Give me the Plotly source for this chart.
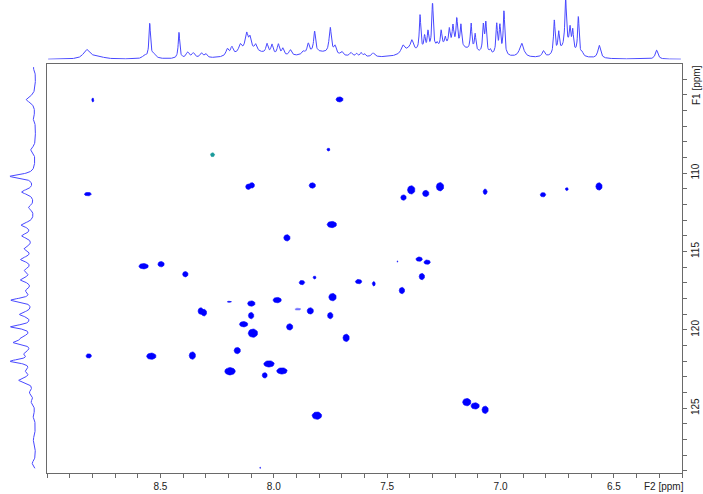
import numpy as np
import plotly.graph_objects as go

# ---------------- data ----------------
# 2D cross peaks: F2 (1H, ppm), F1 (15N, ppm), linewidths F2 / F1 (ppm)
peak_f2 = [8.798, 7.710, 7.759, 8.820, 8.112, 8.097, 7.830, 7.744, 7.942, 8.574,
           8.497, 8.390, 7.820, 7.626, 7.428, 7.394, 7.330, 7.267, 7.068, 6.813,
           6.708, 6.566, 7.455, 7.359, 7.324, 7.347, 7.876, 7.559, 7.741, 8.196,
           8.099, 7.985, 7.839, 7.751, 8.322, 8.308, 8.100, 8.133, 8.092, 7.930,
           7.681, 8.816, 8.540, 8.359, 8.161, 8.193, 8.021, 7.964, 8.040, 7.810,
           7.435, 7.149, 7.112, 7.068, 8.060]
peak_f1 = [105.34, 105.30, 108.50, 111.34, 110.87, 110.78, 110.79, 113.28, 114.13, 115.94,
           115.81, 116.45, 116.66, 116.92, 111.56, 111.07, 111.30, 110.87, 111.19, 111.38,
           111.02, 110.85, 115.64, 115.49, 115.68, 116.60, 116.98, 117.06, 117.91, 118.21,
           118.32, 118.10, 118.79, 119.09, 118.80, 118.90, 119.09, 119.64, 120.21, 119.81,
           120.51, 121.66, 121.68, 121.64, 121.32, 122.64, 122.17, 122.62, 122.90, 125.47,
           117.49, 124.61, 124.85, 125.10, 128.80]
lw_f2 = [0.009, 0.031, 0.013, 0.031, 0.024, 0.024, 0.028, 0.042, 0.028, 0.042,
         0.028, 0.024, 0.013, 0.028, 0.024, 0.033, 0.028, 0.033, 0.018, 0.024,
         0.013, 0.028, 0.005, 0.028, 0.028, 0.024, 0.024, 0.013, 0.033, 0.018,
         0.033, 0.037, 0.028, 0.024, 0.024, 0.024, 0.024, 0.037, 0.042, 0.028,
         0.028, 0.024, 0.042, 0.028, 0.028, 0.046, 0.046, 0.046, 0.022, 0.042,
         0.024, 0.037, 0.037, 0.028, 0.005]
lw_f1 = [0.26, 0.32, 0.19, 0.22, 0.34, 0.34, 0.34, 0.40, 0.40, 0.34,
         0.34, 0.34, 0.19, 0.28, 0.34, 0.53, 0.40, 0.53, 0.34, 0.28,
         0.19, 0.47, 0.07, 0.28, 0.28, 0.40, 0.28, 0.28, 0.47, 0.07,
         0.34, 0.34, 0.40, 0.40, 0.42, 0.42, 0.40, 0.34, 0.53, 0.40,
         0.47, 0.28, 0.40, 0.47, 0.40, 0.47, 0.40, 0.40, 0.34, 0.47,
         0.40, 0.47, 0.40, 0.47, 0.07]

# weak / negative peaks
weak_f2, weak_f1, weak_lw2, weak_lw1 = [7.894], [118.68], [0.026], [0.13]
neg_f2, neg_f1, neg_lw2, neg_lw1 = [8.270], [108.83], [0.018], [0.26]

# 1H projection (top): position ppm, height, half width ppm
h_pos = [8.826, 8.780, 8.570, 8.547, 8.530, 8.418, 8.380, 8.355, 8.320, 8.300,
         8.205, 8.185, 8.148, 8.120, 8.105, 8.080, 8.030, 8.008, 7.980, 7.960,
         7.927, 7.870, 7.848, 7.820, 7.751, 7.730, 7.700, 7.660, 7.635, 7.615,
         7.600, 7.562, 7.431, 7.391, 7.355, 7.335, 7.320, 7.300, 7.280, 7.262,
         7.244, 7.226, 7.210, 7.193, 7.175, 7.130, 7.112, 7.076, 7.065, 7.045,
         7.017, 7.003, 6.985, 6.907, 6.811, 6.763, 6.744, 6.713, 6.694, 6.682,
         6.657, 6.640, 6.565, 6.312,
         8.100, 7.800, 7.220, 7.400, 6.710]
h_int = [9, 3, 3, 34, 4, 26, 6, 5, 5, 4,
         7, 8, 8, 17, 11, 6, 10, 10, 11, 7,
         6, 3, 10, 21, 26, 8, 4, 4, 3, 4,
         3, 4, 8, 9, 36, 14, 18, 46, 4, 16,
         8, 16, 19, 27, 22, 27, 17, 27, 30, 4,
         30, 28, 44, 14, 6, 34, 20, 48, 20, 20,
         38, 3, 13, 9,
         8, 6, 13, 6, 11]
h_wid = [0.016, 0.030, 0.010, 0.004, 0.012, 0.004, 0.008, 0.008, 0.007, 0.007,
         0.007, 0.007, 0.008, 0.008, 0.006, 0.006, 0.006, 0.006, 0.006, 0.006,
         0.007, 0.007, 0.006, 0.005, 0.006, 0.006, 0.007, 0.007, 0.006, 0.005,
         0.005, 0.009, 0.009, 0.007, 0.004, 0.004, 0.004, 0.004, 0.004, 0.004,
         0.004, 0.004, 0.004, 0.004, 0.004, 0.004, 0.004, 0.004, 0.004, 0.004,
         0.004, 0.004, 0.004, 0.011, 0.007, 0.004, 0.004, 0.004, 0.004, 0.004,
         0.004, 0.004, 0.007, 0.007,
         0.070, 0.080, 0.110, 0.030, 0.035]

# 15N projection (left): position ppm, height, half width ppm
n_pos = [103.3, 105.3, 106.5, 108.5, 110.2, 111.2, 112.2, 113.3, 114.0, 114.8,
         115.5, 116.2, 116.8, 117.5, 118.1, 119.0, 119.8, 120.5, 120.8, 121.5,
         122.0, 122.6, 123.2, 124.0, 124.6, 125.5, 127.0, 128.5]
n_int = [2, 8, 2, 4, 21, 11, 5, 11, 10, 8,
         11, 7, 11, 6, 19, 12, 19, 8, 15, 7,
         19, 6, 13, 4, 3, 2, 2, 3]
n_wid = [0.20, 0.25, 0.20, 0.20, 0.15, 0.20, 0.20, 0.20, 0.20, 0.20,
         0.20, 0.20, 0.20, 0.20, 0.15, 0.20, 0.15, 0.20, 0.15, 0.20,
         0.15, 0.20, 0.20, 0.20, 0.20, 0.20, 0.30, 0.20]

x_ticks = [8.5, 8.0, 7.5, 7.0, 6.5]
y_ticks = [110, 115, 120, 125]
F2_RANGE = [9.0, 6.2]
F1_RANGE = [129.13, 103.04]

# ---------------- helpers ----------------
def ellipses(xc, yc, w2, w1, n=28):
    t = np.linspace(0, 2 * np.pi, n)
    xs, ys = [], []
    for a, b, rw, rh in zip(xc, yc, w2, w1):
        xs += list(a + rw / 2 * np.cos(t)) + [None]
        ys += list(b + rh / 2 * np.sin(t)) + [None]
    return xs, ys

def lorentz_sum(axis, pos, amp, wid):
    s = np.zeros_like(axis)
    for p, a, w in zip(pos, amp, wid):
        s += a * w * w / ((axis - p) ** 2 + w * w)
    return s

W, H = 703, 494
fig = go.Figure()

ex, ey = ellipses(peak_f2, peak_f1, lw_f2, lw_f1)
fig.add_trace(go.Scatter(x=ex, y=ey, mode="lines", fill="toself",
                         fillcolor="#0000ff", line=dict(color="#0000ff", width=0.6),
                         hoverinfo="skip", showlegend=False, xaxis="x", yaxis="y"))
ex, ey = ellipses(weak_f2, weak_f1, weak_lw2, weak_lw1)
fig.add_trace(go.Scatter(x=ex, y=ey, mode="lines", fill="toself",
                         fillcolor="#7070ff", line=dict(color="#7070ff", width=0.5),
                         hoverinfo="skip", showlegend=False, xaxis="x", yaxis="y"))
ex, ey = ellipses(neg_f2, neg_f1, neg_lw2, neg_lw1)
fig.add_trace(go.Scatter(x=ex, y=ey, mode="lines", fill="toself",
                         fillcolor="#1a9a9a", line=dict(color="#1a9a9a", width=0.5),
                         hoverinfo="skip", showlegend=False, xaxis="x", yaxis="y"))

hx = np.linspace(F2_RANGE[0] - 0.005, F2_RANGE[1] + 0.005, 2400)
hy = lorentz_sum(hx, h_pos, h_int, h_wid)
fig.add_trace(go.Scatter(x=hx, y=hy, mode="lines", line=dict(color="#4848ff", width=1),
                         hoverinfo="skip", showlegend=False, xaxis="x2", yaxis="y2"))

ny = np.linspace(F1_RANGE[1] + 0.2, F1_RANGE[0] - 0.3, 1200)
nx = lorentz_sum(ny, n_pos, n_int, n_wid)
fig.add_trace(go.Scatter(x=nx, y=ny, mode="lines", line=dict(color="#4848ff", width=1),
                         hoverinfo="skip", showlegend=False, xaxis="x3", yaxis="y3"))

x0d, x1d = 47 / W, 682 / W
y0d, y1d = 1 - 473 / H, 1 - 64 / H
axcol = "#6a6a6a"
font = dict(family="Liberation Sans, Arial, sans-serif", size=10, color="#222222")

fig.update_layout(
    width=W, height=H, margin=dict(l=0, r=0, t=0, b=0),
    paper_bgcolor="white", plot_bgcolor="white", font=font, showlegend=False,
    xaxis=dict(domain=[x0d, x1d], range=F2_RANGE, showgrid=False, zeroline=False,
               showline=True, linecolor=axcol, linewidth=1, mirror=True,
               tickmode="array", tickvals=x_ticks, ticktext=[f"{v:.1f}" for v in x_ticks],
               ticks="outside", ticklen=4, tickcolor=axcol,
               minor=dict(tickmode="linear", tick0=0, dtick=0.1, ticks="outside",
                          ticklen=4, tickcolor=axcol, showgrid=False),
               anchor="y"),
    yaxis=dict(domain=[y0d, y1d], range=F1_RANGE, showgrid=False, zeroline=False,
               showline=True, linecolor=axcol, linewidth=1, mirror=True, side="right",
               tickmode="array", tickvals=y_ticks, ticktext=[str(v) for v in y_ticks],
               ticks="outside", ticklen=4, tickcolor=axcol, tickangle=-90,
               minor=dict(tickmode="linear", tick0=0, dtick=1, ticks="outside",
                          ticklen=4, tickcolor=axcol, showgrid=False),
               anchor="x"),
    xaxis2=dict(domain=[x0d, x1d], matches="x", visible=False, anchor="y2"),
    yaxis2=dict(domain=[1 - 59.5 / H, 1], range=[0, 59.5], visible=False, anchor="x2"),
    xaxis3=dict(domain=[0, 36 / W], range=[30, 0], visible=False, anchor="y3"),
    yaxis3=dict(domain=[y0d, y1d], matches="y", visible=False, anchor="x3"),
)

fig.add_annotation(text="F2 [ppm]", xref="paper", yref="paper", x=663.5 / W, y=1 - 486 / H,
                   showarrow=False, xanchor="center", yanchor="middle", font=font)
fig.add_annotation(text="F1 [ppm]", xref="paper", yref="paper", x=696 / W, y=1 - 85 / H,
                   showarrow=False, xanchor="center", yanchor="middle", textangle=-90, font=font)

fig.write_html("out.html", config={"displayModeBar": False, "responsive": False},
               post_script="document.body.style.margin='0px';document.body.style.overflow='hidden';")
